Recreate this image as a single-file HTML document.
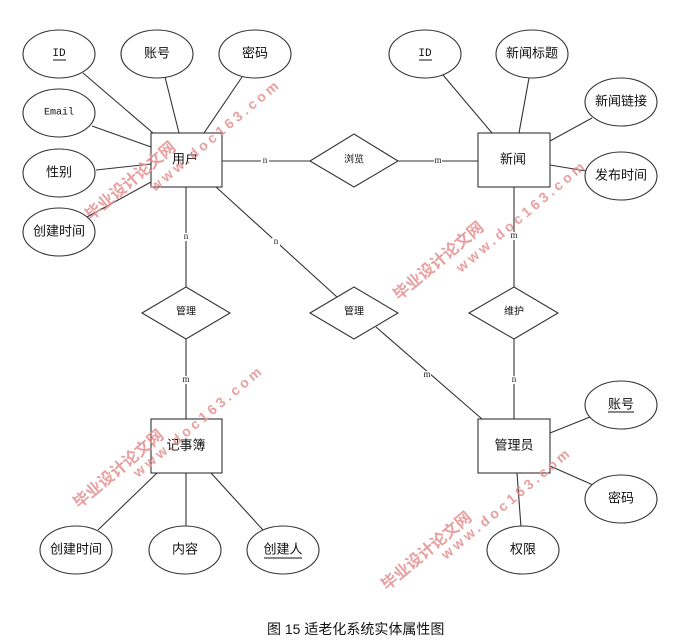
<!DOCTYPE html>
<html><head><meta charset="utf-8"><style>
html,body{margin:0;padding:0;background:#fff;}
svg{display:block;}
.l{stroke:#333;stroke-width:1.1;fill:none;}
.s{stroke:#333;stroke-width:1.1;fill:#fff;}
.t{font-family:"Liberation Sans","Noto Sans CJK SC",sans-serif;font-size:13px;fill:#111;text-anchor:middle;dominant-baseline:central;}
.d{font-family:"Liberation Sans","Noto Sans CJK SC",sans-serif;font-size:10px;fill:#111;text-anchor:middle;dominant-baseline:central;}
.m{font-family:"Liberation Mono",monospace;font-size:11px;fill:#111;text-anchor:middle;dominant-baseline:central;}
.c{font-family:"Liberation Serif",serif;font-size:9px;fill:#222;text-anchor:middle;dominant-baseline:central;}
.w1{font-family:"Liberation Sans","Noto Sans CJK SC",sans-serif;font-size:16px;font-weight:bold;fill:#e58f8f;opacity:0.85;}
.w2{font-family:"Liberation Sans",sans-serif;font-size:14px;font-weight:bold;fill:#e58f8f;opacity:0.85;letter-spacing:3.5px;}
</style></head><body>
<svg width="677" height="641" viewBox="0 0 677 641" xmlns="http://www.w3.org/2000/svg">
<!-- lines: 用户 attributes -->
<line class="l" x1="83" y1="73" x2="153" y2="133"/>
<line class="l" x1="165" y1="77" x2="179" y2="133"/>
<line class="l" x1="242" y1="77" x2="204" y2="133"/>
<line class="l" x1="92" y1="126" x2="151" y2="147"/>
<line class="l" x1="96" y1="170" x2="151" y2="164"/>
<line class="l" x1="87" y1="217" x2="151" y2="182"/>
<!-- 新闻 attributes -->
<line class="l" x1="443" y1="75" x2="492" y2="133"/>
<line class="l" x1="529" y1="78" x2="519" y2="133"/>
<line class="l" x1="592" y1="118" x2="550" y2="141"/>
<line class="l" x1="550" y1="165" x2="586" y2="171"/>
<!-- 记事簿 attributes -->
<line class="l" x1="157" y1="473" x2="98" y2="530"/>
<line class="l" x1="186" y1="473" x2="186" y2="526"/>
<line class="l" x1="211" y1="473" x2="263" y2="530"/>
<!-- 管理员 attributes -->
<line class="l" x1="550" y1="433" x2="590" y2="417"/>
<line class="l" x1="550" y1="466" x2="593" y2="485"/>
<line class="l" x1="517" y1="473" x2="521" y2="527"/>
<!-- relationships -->
<line class="l" x1="222" y1="161" x2="310" y2="161"/>
<line class="l" x1="398" y1="161" x2="478" y2="161"/>
<line class="l" x1="186" y1="187" x2="186" y2="287"/>
<line class="l" x1="186" y1="339" x2="186" y2="419"/>
<line class="l" x1="514" y1="187" x2="514" y2="287"/>
<line class="l" x1="514" y1="339" x2="514" y2="419"/>
<line class="l" x1="216" y1="187" x2="337" y2="297"/>
<line class="l" x1="376" y1="327" x2="482" y2="419"/>

<!-- cardinality labels -->
<rect x="261" y="157" width="8" height="8" fill="#fff"/><text class="c" x="265" y="160">n</text>
<rect x="434" y="157" width="8" height="8" fill="#fff"/><text class="c" x="438" y="160">m</text>
<rect x="182" y="233" width="8" height="8" fill="#fff"/><text class="c" x="186" y="236">n</text>
<rect x="272" y="238" width="8" height="8" fill="#fff"/><text class="c" x="276" y="241">n</text>
<rect x="182" y="376" width="8" height="8" fill="#fff"/><text class="c" x="186" y="379">m</text>
<rect x="510" y="232" width="8" height="8" fill="#fff"/><text class="c" x="514" y="235">m</text>
<rect x="423" y="371" width="8" height="8" fill="#fff"/><text class="c" x="427" y="374">m</text>
<rect x="510" y="376" width="8" height="8" fill="#fff"/><text class="c" x="514" y="379">n</text>

<!-- ellipses -->
<ellipse class="s" cx="59" cy="54" rx="36" ry="24"/><text class="m" x="59" y="54">ID</text>
<line x1="53" y1="60" x2="66" y2="60" stroke="#111" stroke-width="1"/>
<ellipse class="s" cx="157" cy="54" rx="36" ry="24"/><text class="t" x="157" y="53">账号</text>
<ellipse class="s" cx="255" cy="54" rx="36" ry="24"/><text class="t" x="255" y="53">密码</text>
<ellipse class="s" cx="59" cy="113" rx="36" ry="24"/><text class="m" x="59" y="113" style="font-size:10px">Email</text>
<ellipse class="s" cx="59" cy="173" rx="36" ry="24"/><text class="t" x="59" y="172">性别</text>
<ellipse class="s" cx="59" cy="232" rx="36" ry="24"/><text class="t" x="59" y="231">创建时间</text>

<ellipse class="s" cx="425" cy="54" rx="36" ry="24"/><text class="m" x="425" y="54">ID</text>
<line x1="419" y1="60" x2="432" y2="60" stroke="#111" stroke-width="1"/>
<ellipse class="s" cx="532" cy="54" rx="36" ry="24"/><text class="t" x="532" y="53">新闻标题</text>
<ellipse class="s" cx="621" cy="102" rx="36" ry="24"/><text class="t" x="621" y="101">新闻链接</text>
<ellipse class="s" cx="621" cy="176" rx="36" ry="24"/><text class="t" x="621" y="175">发布时间</text>

<ellipse class="s" cx="76" cy="550" rx="36" ry="24"/><text class="t" x="76" y="549">创建时间</text>
<ellipse class="s" cx="185" cy="550" rx="36" ry="24"/><text class="t" x="185" y="549">内容</text>
<ellipse class="s" cx="283" cy="550" rx="36" ry="24"/><text class="t" x="283" y="549">创建人</text>
<line x1="264" y1="558" x2="302" y2="558" stroke="#111" stroke-width="1"/>

<ellipse class="s" cx="621" cy="405" rx="36" ry="24"/><text class="t" x="621" y="404">账号</text>
<line x1="608" y1="412" x2="634" y2="412" stroke="#111" stroke-width="1"/>
<ellipse class="s" cx="621" cy="499" rx="36" ry="24"/><text class="t" x="621" y="498">密码</text>
<ellipse class="s" cx="523" cy="550" rx="36" ry="24"/><text class="t" x="523" y="549">权限</text>

<!-- entities -->
<rect class="s" x="151" y="133" width="71" height="54"/><text class="t" x="185" y="159">用户</text>
<rect class="s" x="478" y="133" width="72" height="54"/><text class="t" x="513" y="159">新闻</text>
<rect class="s" x="151" y="419" width="71" height="54"/><text class="t" x="186" y="445">记事簿</text>
<rect class="s" x="478" y="419" width="72" height="54"/><text class="t" x="514" y="445">管理员</text>

<!-- relationships diamonds -->
<polygon class="s" points="310,161 354,134 398,161 354,187"/><text class="d" x="354" y="160">浏览</text>
<polygon class="s" points="142,313 186,287 230,313 186,339"/><text class="d" x="186" y="312">管理</text>
<polygon class="s" points="310,313 354,287 398,313 354,339"/><text class="d" x="354" y="312">管理</text>
<polygon class="s" points="469,313 514,287 558,313 514,339"/><text class="d" x="514" y="312">维护</text>

<!-- watermarks -->
<g>
<text class="w1" x="0" y="0" transform="translate(91,221) rotate(-40)">毕业设计论文网</text>
<text class="w2" x="0" y="0" transform="translate(155,192) rotate(-40)">www.doc163.com</text>
<text class="w1" x="0" y="0" transform="translate(399,301) rotate(-40)">毕业设计论文网</text>
<text class="w2" x="0" y="0" transform="translate(461,273) rotate(-40)">www.doc163.com</text>
<text class="w1" x="0" y="0" transform="translate(79,509) rotate(-40)">毕业设计论文网</text>
<text class="w2" x="0" y="0" transform="translate(138,478) rotate(-40)">www.doc163.com</text>
<text class="w1" x="0" y="0" transform="translate(387,591) rotate(-40)">毕业设计论文网</text>
<text class="w2" x="0" y="0" transform="translate(446,560) rotate(-40)">www.doc163.com</text>
</g>

<!-- caption -->
<text x="267" y="634" style="font-family:'Liberation Sans','Noto Sans CJK SC',sans-serif;font-size:14px;fill:#111;">图 15 适老化系统实体属性图</text>
</svg>
</body></html>
